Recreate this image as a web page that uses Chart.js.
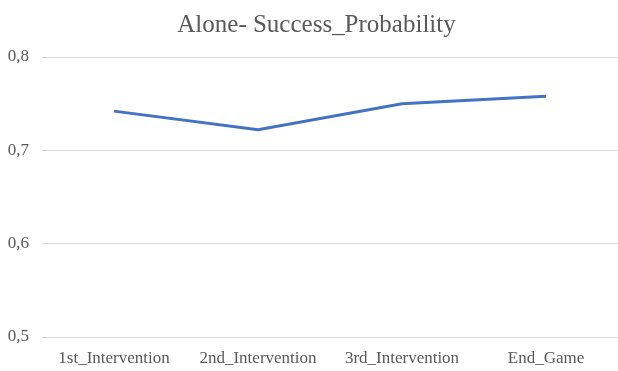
<!DOCTYPE html>
<html>
<head>
<meta charset="utf-8">
<script src="https://cdn.jsdelivr.net/npm/chart.js@4/dist/chart.umd.min.js"></script>
<style>
  html, body { margin: 0; padding: 0; background: #ffffff; overflow: hidden; }
  #wrap { width: 618px; height: 371px; }
</style>
</head>
<body>
<div id="wrap"><canvas id="chart" width="618" height="371"></canvas></div>
<script>
const categories = ['1st_Intervention', '2nd_Intervention', '3rd_Intervention', 'End_Game'];
const successProbability = [0.742, 0.722, 0.750, 0.758];
const yTicks = [0.5, 0.6, 0.7, 0.8];

const serif = '"Liberation Serif", "Times New Roman", serif';

new Chart(document.getElementById('chart'), {
  type: 'line',
  data: {
    labels: categories,
    datasets: [{
      label: 'Success_Probability',
      data: successProbability,
      borderColor: '#4472C4',
      borderWidth: 3,
      pointRadius: 0,
      tension: 0,
      fill: false
    }]
  },
  options: {
    responsive: false,
    animation: false,
    layout: { padding: { left: 8, right: -7, top: 0, bottom: 2 } },
    plugins: {
      legend: { display: false },
      tooltip: { enabled: false },
      title: {
        display: true,
        text: 'Alone- Success_Probability',
        color: '#595959',
        font: { family: serif, size: 25, weight: 'normal' },
        padding: { top: 10, bottom: 17 }
      }
    },
    scales: {
      x: {
        offset: true,
        grid: { display: false, drawTicks: false },
        border: { display: false },
        afterFit: axis => { axis.height = 32; },
        ticks: {
          color: '#595959',
          font: { family: serif, size: 17 },
          padding: 11,
          maxRotation: 0,
          autoSkip: false
        }
      },
      y: {
        min: 0.5,
        max: 0.8,
        afterBuildTicks: axis => { axis.ticks = yTicks.map(v => ({ value: v })); },
        afterFit: axis => { axis.width = 34; },
        grid: { color: '#d9d9d9', lineWidth: 1, drawTicks: false },
        border: { display: false },
        ticks: {
          color: '#595959',
          font: { family: serif, size: 17 },
          padding: 13,
          callback: v => v.toFixed(1).replace('.', ',')
        }
      }
    }
  }
});
</script>
</body>
</html>
